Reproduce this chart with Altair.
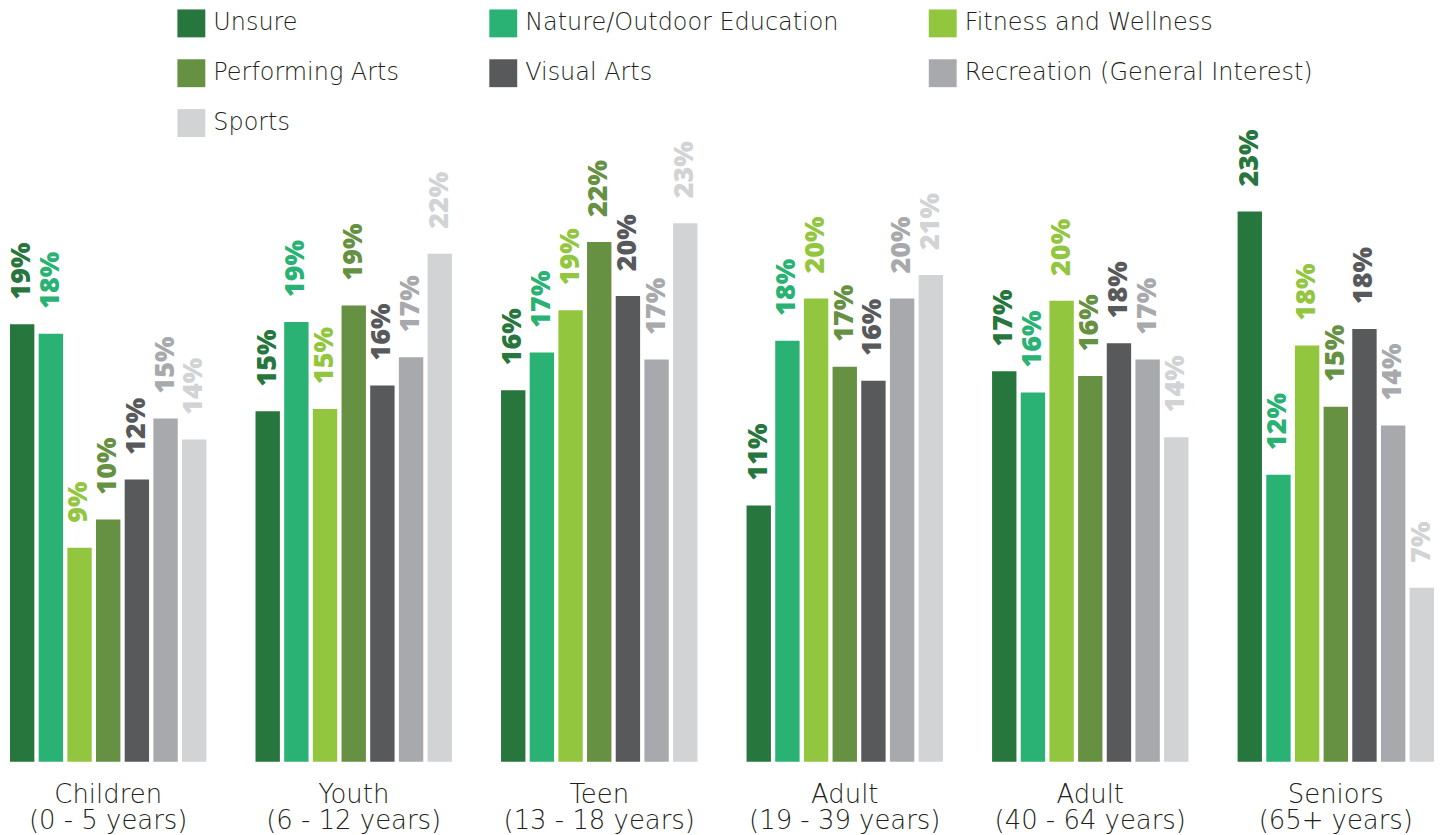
import altair as alt
import pandas as pd

groups = [
    "Children|(0 - 5 years)",
    "Youth|(6 - 12 years)",
    "Teen|(13 - 18 years)",
    "Adult|(19 - 39 years)",
    "Adult|(40 - 64 years)",
    "Seniors|(65+ years)",
]
series = [
    "Unsure",
    "Nature/Outdoor Education",
    "Fitness and Wellness",
    "Performing Arts",
    "Visual Arts",
    "Recreation (General Interest)",
    "Sports",
]
colors = ["#27763d", "#2ab274", "#93c63f", "#669042", "#58595b", "#a7a9ac", "#d1d3d4"]

# values (%) per series, in group order
unsure = [18.6, 14.9, 15.8, 10.9, 16.6, 23.4]
nature = [18.2, 18.7, 17.4, 17.9, 15.7, 12.2]
fitness = [9.1, 15.0, 19.2, 19.7, 19.6, 17.7]
performing = [10.3, 19.4, 22.1, 16.8, 16.4, 15.1]
visual = [12.0, 16.0, 19.8, 16.2, 17.8, 18.4]
recreation = [14.6, 17.2, 17.1, 19.7, 17.1, 14.3]
sports = [13.7, 21.6, 22.9, 20.7, 13.8, 7.4]

values = [unsure, nature, fitness, performing, visual, recreation, sports]
rows = []
for s, vals in zip(series, values):
    for g, v in zip(groups, vals):
        rows.append({"group": g, "series": s, "value": v})
df = pd.DataFrame(rows)

FONT = "DejaVu Sans"
TXT = "#231f20"

color_scale = alt.Scale(domain=series, range=colors)

color = alt.Color(
    "series:N",
    scale=color_scale,
    sort=series,
    legend=alt.Legend(
        title=None,
        orient="none",
        direction="horizontal",
        legendX=168,
        legendY=-3,
        columns=3,
        columnPadding=90,
        rowPadding=22,
        symbolType="square",
        symbolSize=784,
        symbolStrokeWidth=0,
        labelFont=FONT,
        labelFontWeight=200,
        labelFontSize=24,
        labelColor=TXT,
        labelOffset=8,
        labelLimit=0,
    ),
)

x = alt.X(
    "group:N",
    sort=groups,
    scale=alt.Scale(paddingInner=0.2, paddingOuter=0),
    axis=alt.Axis(
        title=None,
        domain=False,
        ticks=False,
        labelAngle=0,
        labelExpr="split(datum.label, '|')",
        labelFont=FONT,
        labelFontWeight=200,
        labelFontSize=26,
        labelColor=TXT,
        labelLineHeight=26,
        labelBaseline="top",
        labelPadding=20,
        labelLimit=0,
    ),
)
xo = alt.XOffset("series:N", sort=series, scale=alt.Scale(paddingInner=0.15, paddingOuter=0))
y = alt.Y("value:Q", scale=alt.Scale(domain=[0, 31.86], nice=False, zero=True), axis=None)

base = alt.Chart(df)

bars = base.mark_bar().encode(x=x, xOffset=xo, y=y, color=color)

labels = base.mark_text(
    angle=270,
    align="left",
    baseline="middle",
    dx=25,
    font="Open Sans",
    fontSize=27,
    fontWeight=800,
).transform_calculate(
    label="format(datum.value, '.0f') + '%'"
).encode(
    x=x,
    xOffset=xo,
    y=y,
    text="label:N",
    color=alt.Color("series:N", scale=color_scale, sort=series, legend=None),
)

chart = alt.layer(bars, labels).properties(
    width=1429,
    height=752,
    padding={"left": 0, "top": 0, "right": 0, "bottom": 0},
).configure_view(stroke=None)

chart.save("out.html", embed_options={"renderer": "svg", "actions": False})
